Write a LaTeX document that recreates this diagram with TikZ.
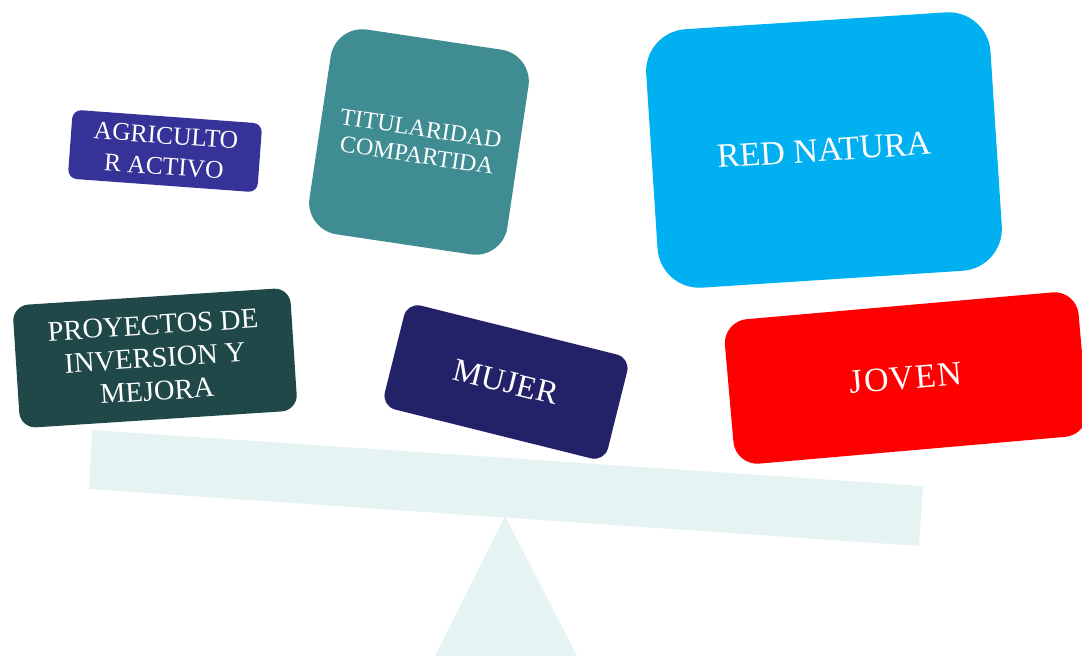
\documentclass[tikz,border=0pt]{standalone}
\usepackage{fontspec}
\setmainfont{Liberation Serif}
\definecolor{beamteal}{HTML}{E6F3F3}
\definecolor{agriblue}{HTML}{363398}
\definecolor{tituteal}{HTML}{3F8C93}
\definecolor{natcyan}{HTML}{00B0F0}
\definecolor{proygreen}{HTML}{214849}
\definecolor{mujnavy}{HTML}{232268}
\definecolor{jovred}{HTML}{FF0000}
\tikzset{
  card/.style={rectangle, rounded corners=#1, text=white, align=center, inner sep=0pt},
}

\begin{document}
\begin{tikzpicture}[x=1pt, y=-1pt]
\useasboundingbox (0,0) rectangle (1082,656);
% balance
\fill[beamteal] (92,430) -- (923,486) -- (919,546) -- (89,489) -- cycle;
\fill[beamteal] (505,516) -- (577,656) -- (435,656) -- cycle;
% cards
\node[card=9pt, fill=agriblue, minimum width=190pt, minimum height=69pt, rotate=-4.2,
  font=\fontsize{25.5}{31}\selectfont] (agri) at (165,151) {AGRICULTO\\R ACTIVO};
\node[card=32pt, fill=tituteal, minimum width=200pt, minimum height=207pt, rotate=-8.5,
  font=\fontsize{24}{27}\selectfont] (titul) at (419,142) {TITULARIDAD\\COMPARTIDA};
\node[card=42pt, fill=natcyan, minimum width=345pt, minimum height=259pt, rotate=3.7,
  font=\fontsize{34}{36}\selectfont] (natura) at (824,150) {RED NATURA};
\node[card=16pt, fill=proygreen, minimum width=278pt, minimum height=123pt, rotate=3.7,
  font=\fontsize{28.5}{33}\selectfont] (proy) at (155,358) {PROYECTOS DE\\INVERSION Y\\MEJORA};
\node[card=14pt, fill=mujnavy, minimum width=230pt, minimum height=107pt, rotate=-14,
  font=\fontsize{32.5}{34}\selectfont] (mujer) at (506,382) {MUJER};
\node[card=24pt, fill=jovred, minimum width=355pt, minimum height=145pt, rotate=5,
  font=\fontsize{34}{36}\selectfont] (joven) at (906,378) {J\kern1.2pt O\kern1.2pt V\kern1.2pt E\kern1.2pt N};
\end{tikzpicture}
\end{document}
